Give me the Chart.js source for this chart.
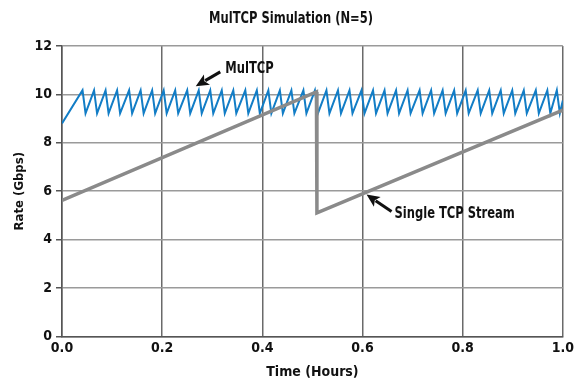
<!DOCTYPE html>
<html>
<head>
<meta charset="utf-8">
<script src="https://cdn.jsdelivr.net/npm/chart.js@4.4.1/dist/chart.umd.min.js"></script>
<style>
  html, body { margin: 0; padding: 0; background: #fff; }
  #wrap { width: 578px; height: 390px; position: relative; }
</style>
</head>
<body>
<div id="wrap"><canvas id="chart"></canvas></div>
<script>
// MulTCP sawtooth (N=5)
const mulTcpTime = [
  0.000, 0.041, 0.047, 0.064, 0.070, 0.087, 0.093, 0.110, 0.116, 0.134, 0.140,
  0.157, 0.163, 0.180, 0.186, 0.203, 0.209, 0.226, 0.232, 0.250, 0.256,
  0.273, 0.279, 0.296, 0.302, 0.319, 0.325, 0.342, 0.348, 0.366, 0.372,
  0.389, 0.395, 0.412, 0.418, 0.435, 0.441, 0.458, 0.464, 0.482, 0.488,
  0.505, 0.511, 0.528, 0.534, 0.551, 0.557, 0.574, 0.580, 0.598, 0.604,
  0.621, 0.627, 0.644, 0.650, 0.667, 0.673, 0.690, 0.696, 0.714, 0.720,
  0.737, 0.743, 0.760, 0.766, 0.783, 0.789, 0.806, 0.812, 0.830, 0.836,
  0.853, 0.859, 0.876, 0.882, 0.899, 0.905, 0.922, 0.928, 0.946, 0.952,
  0.969, 0.975, 0.988, 0.994, 1.000
];
const mulTcpRate = [
  8.80, 10.17, 9.22, 10.17, 9.22, 10.17, 9.22, 10.17, 9.22, 10.17, 9.22,
  10.17, 9.22, 10.17, 9.22, 10.17, 9.22, 10.17, 9.22, 10.17, 9.22,
  10.17, 9.22, 10.17, 9.22, 10.17, 9.22, 10.17, 9.22, 10.17, 9.22,
  10.17, 9.22, 10.17, 9.22, 10.17, 9.22, 10.17, 9.22, 10.17, 9.22,
  10.17, 9.22, 10.17, 9.22, 10.17, 9.22, 10.17, 9.22, 10.17, 9.22,
  10.17, 9.22, 10.17, 9.22, 10.17, 9.22, 10.17, 9.22, 10.17, 9.22,
  10.17, 9.22, 10.17, 9.22, 10.17, 9.22, 10.17, 9.22, 10.17, 9.22,
  10.17, 9.22, 10.17, 9.22, 10.17, 9.22, 10.17, 9.22, 10.17, 9.22,
  10.17, 9.22, 10.17, 9.22, 9.75
];

// single TCP stream
const singleTime = [0.000, 0.508, 0.509, 1.000];
const singleRate = [5.62, 10.10, 5.10, 9.35];

const xTicks = [0.0, 0.2, 0.4, 0.6, 0.8, 1.0];
const yTicks = [0, 2, 4, 6, 8, 10, 12];

const FONT = '"Liberation Sans Narrow", "DejaVu Sans Condensed", Arial, sans-serif';

// labels with arrows, in data units
const notes = [
  { text: 'MulTCP', tx: 0.326, ty: 11.05, from: [0.316, 10.93], to: [0.267, 10.34] },
  { text: 'Single TCP Stream', tx: 0.664, ty: 5.05, from: [0.658, 5.16], to: [0.608, 5.86] }
];

function toPoints(xs, ys){
  return xs.map(function(x, i){ return { x: x, y: ys[i] }; });
}

// narrow bold text, squeezed a bit to look like the condensed face
function narrowText(ctx, text, x, y, align){
  const squeeze = 0.8;
  ctx.save();
  ctx.font = 'bold 16px ' + FONT;
  ctx.textAlign = align;
  ctx.textBaseline = 'middle';
  ctx.translate(x, y);
  ctx.scale(squeeze, 1);
  ctx.fillText(text, 0, 0);
  ctx.restore();
}

// draws the title and the arrow notes
const extras = {
  id: 'extras',
  afterDraw: function(chart){
    const ctx = chart.ctx;
    const xs = chart.scales.x, ys = chart.scales.y;
    ctx.save();
    ctx.fillStyle = '#111';
    narrowText(ctx, 'MulTCP Simulation (N=5)', 291, 19, 'center');

    notes.forEach(function(n){
      const x1 = xs.getPixelForValue(n.from[0]), y1 = ys.getPixelForValue(n.from[1]);
      const x2 = xs.getPixelForValue(n.to[0]), y2 = ys.getPixelForValue(n.to[1]);
      const ang = Math.atan2(y2 - y1, x2 - x1);
      const hl = 13, hw = 6;
      const bx = x2 - hl * Math.cos(ang), by = y2 - hl * Math.sin(ang);
      ctx.strokeStyle = '#111';
      ctx.lineWidth = 3;
      ctx.beginPath();
      ctx.moveTo(x1, y1);
      ctx.lineTo(bx + 2 * Math.cos(ang), by + 2 * Math.sin(ang));
      ctx.stroke();
      ctx.beginPath();
      ctx.moveTo(x2, y2);
      ctx.lineTo(bx + hw * Math.sin(ang), by - hw * Math.cos(ang));
      ctx.lineTo(bx + 3 * Math.cos(ang), by + 3 * Math.sin(ang));
      ctx.lineTo(bx - hw * Math.sin(ang), by + hw * Math.cos(ang));
      ctx.closePath();
      ctx.fill();

      narrowText(ctx, n.text, xs.getPixelForValue(n.tx), ys.getPixelForValue(n.ty), 'left');
    });
    ctx.restore();
  }
};

const chart = new Chart(document.getElementById('chart'), {
  type: 'line',
  data: {
    datasets: [
      {
        label: 'Single TCP Stream',
        data: toPoints(singleTime, singleRate),
        borderColor: '#8a8a8a',
        borderWidth: 3.5,
        pointRadius: 0,
        tension: 0
      },
      {
        label: 'MulTCP',
        data: toPoints(mulTcpTime, mulTcpRate),
        borderColor: '#127dc6',
        borderWidth: 2,
        pointRadius: 0,
        tension: 0
      }
    ]
  },
  options: {
    responsive: true,
    maintainAspectRatio: false,
    animation: false,
    layout: { padding: { top: 46, right: 13, bottom: 9, left: 0 } },
    plugins: {
      legend: { display: false },
      title: { display: false },
      tooltip: { enabled: false }
    },
    scales: {
      x: {
        type: 'linear',
        min: 0, max: 1,
        afterBuildTicks: function(s){ s.ticks = xTicks.map(function(v){ return { value: v }; }); },
        ticks: {
          color: '#111',
          font: { family: FONT, size: 14, weight: 'bold' },
          padding: 4,
          maxRotation: 0,
          callback: function(v){ return v.toFixed(1); }
        },
        grid: { color: '#6a6a6a', lineWidth: 1.5, drawTicks: false },
        border: { color: '#555', width: 1.5 },
        title: {
          display: true,
          text: 'Time (Hours)',
          color: '#111',
          font: { family: FONT, size: 14, weight: 'bold' },
          padding: { top: 3, bottom: 0 }
        }
      },
      y: {
        min: 0, max: 12,
        afterBuildTicks: function(s){ s.ticks = yTicks.map(function(v){ return { value: v }; }); },
        afterFit: function(s){ s.width = 62; },
        ticks: {
          color: '#111',
          font: { family: FONT, size: 14, weight: 'bold' },
          padding: 4
        },
        grid: { color: '#9a9a9a', lineWidth: 1.5, tickLength: 6, tickColor: '#555' },
        border: { color: '#555', width: 1.5 },
        title: {
          display: true,
          text: 'Rate (Gbps)',
          color: '#111',
          font: { family: FONT, size: 13, weight: 'bold' },
          padding: { top: 12, bottom: 4 }
        }
      }
    }
  },
  plugins: [extras]
});
</script>
</body>
</html>
